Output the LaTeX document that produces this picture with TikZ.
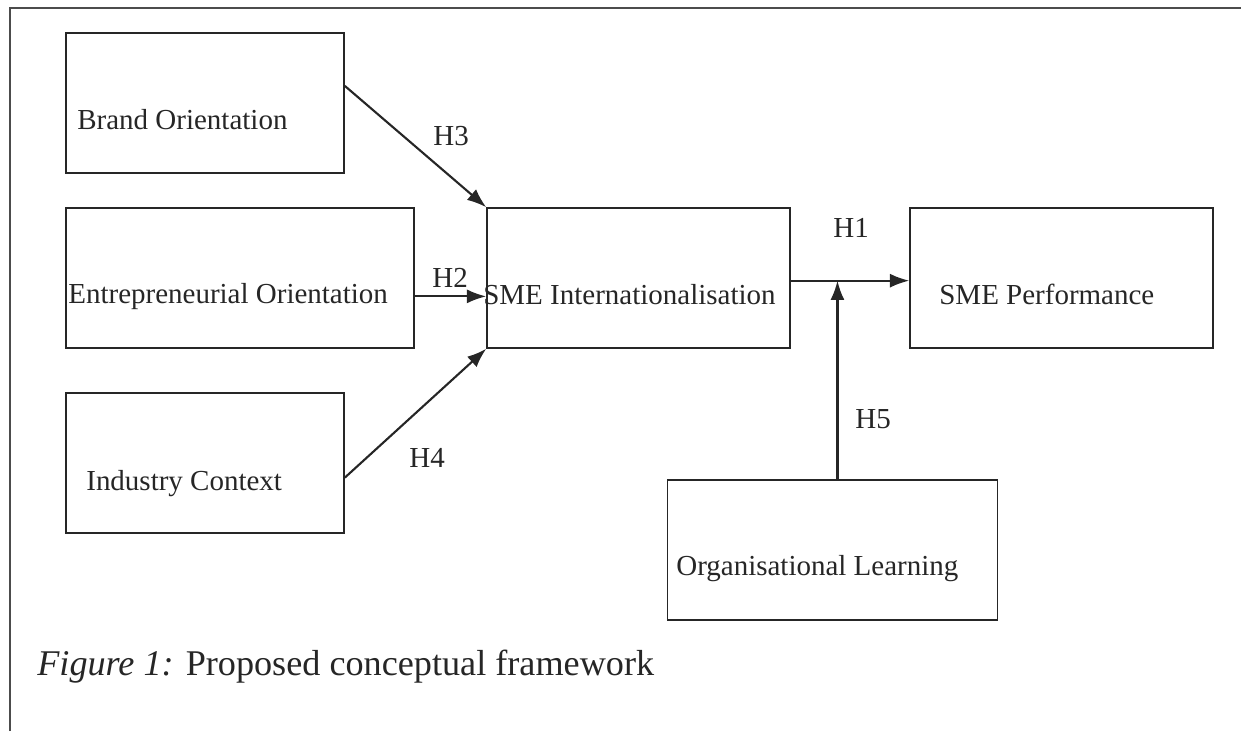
\documentclass[tikz,border=0pt]{standalone}
\usepackage{fontspec}
\setmainfont{Liberation Serif}
\usepackage{tikz}
\usetikzlibrary{arrows,arrows.meta}
\tikzset{>={Latex[length=11pt,width=8pt]}}
\colorlet{framecol}{black!70}
\colorlet{inkcol}{black!85}
\tikzstyle{box}=[draw=inkcol,line width=0.9pt,minimum height=2.8cm,inner sep=0pt]
\tikzstyle{boxtext}=[anchor=base west,inner sep=0pt,text=inkcol,font=\fontsize{16.5}{20}\selectfont]
\tikzstyle{link}=[->,draw=inkcol,line width=1.2pt]

\begin{document}
\begin{tikzpicture}[x=0.02cm,y=-0.02cm]
    \useasboundingbox (0,0) rectangle (1241,731);
    \draw[framecol,line width=0.9pt] (10,731) -- (10,8) -- (1241,8);

    % boxes
    \node[box,minimum width=5.56cm] (brand) at (205,103) {};
    \node[box,minimum width=6.96cm] (entre) at (240,278) {};
    \node[box,minimum width=5.56cm] (industry) at (205,463) {};
    \node[box,minimum width=6.06cm] (sme) at (638.5,278) {};
    \node[box,minimum width=6.06cm] (perf) at (1061.5,278) {};
    \node[box,minimum width=6.6cm] (learn) at (832.5,550) {};

    \node[boxtext] (brandtxt) at (77,129) {Brand Orientation};
    \node[boxtext] (entretxt) at (68,303) {Entrepreneurial Orientation};
    \node[boxtext] (industrytxt) at (86,490) {Industry Context};
    \node[boxtext] (smetxt) at (483,304) {SME Internationalisation};
    \node[boxtext] (perftxt) at (939,304) {SME Performance};
    \node[boxtext] (learntxt) at (676,575) {Organisational Learning};

    % hypotheses
    \draw[link] (brand.7) -- (sme.north west);
    \draw[link] (entre.-6) -- (entre.-6 -| sme.west);
    \draw[link] (industry.-6) -- (sme.south west);
    \draw[link] (sme.-1) -- (sme.-1 -| perf.west);
    \draw[link] (learn.86) -- (learn.86 |- sme.-1);

    \node[boxtext] (h3) at (433,145) {H3};
    \node[boxtext] (h2) at (432,287) {H2};
    \node[boxtext] (h4) at (409,467) {H4};
    \node[boxtext] (h1) at (833,237) {H1};
    \node[boxtext] (h5) at (855,428) {H5};

    \node[anchor=base west,inner sep=0pt,text=inkcol,font=\fontsize{20.6}{25}\selectfont] (caption) at (37,675) {\textit{Figure 1:} Proposed conceptual framework};
\end{tikzpicture}
\end{document}
